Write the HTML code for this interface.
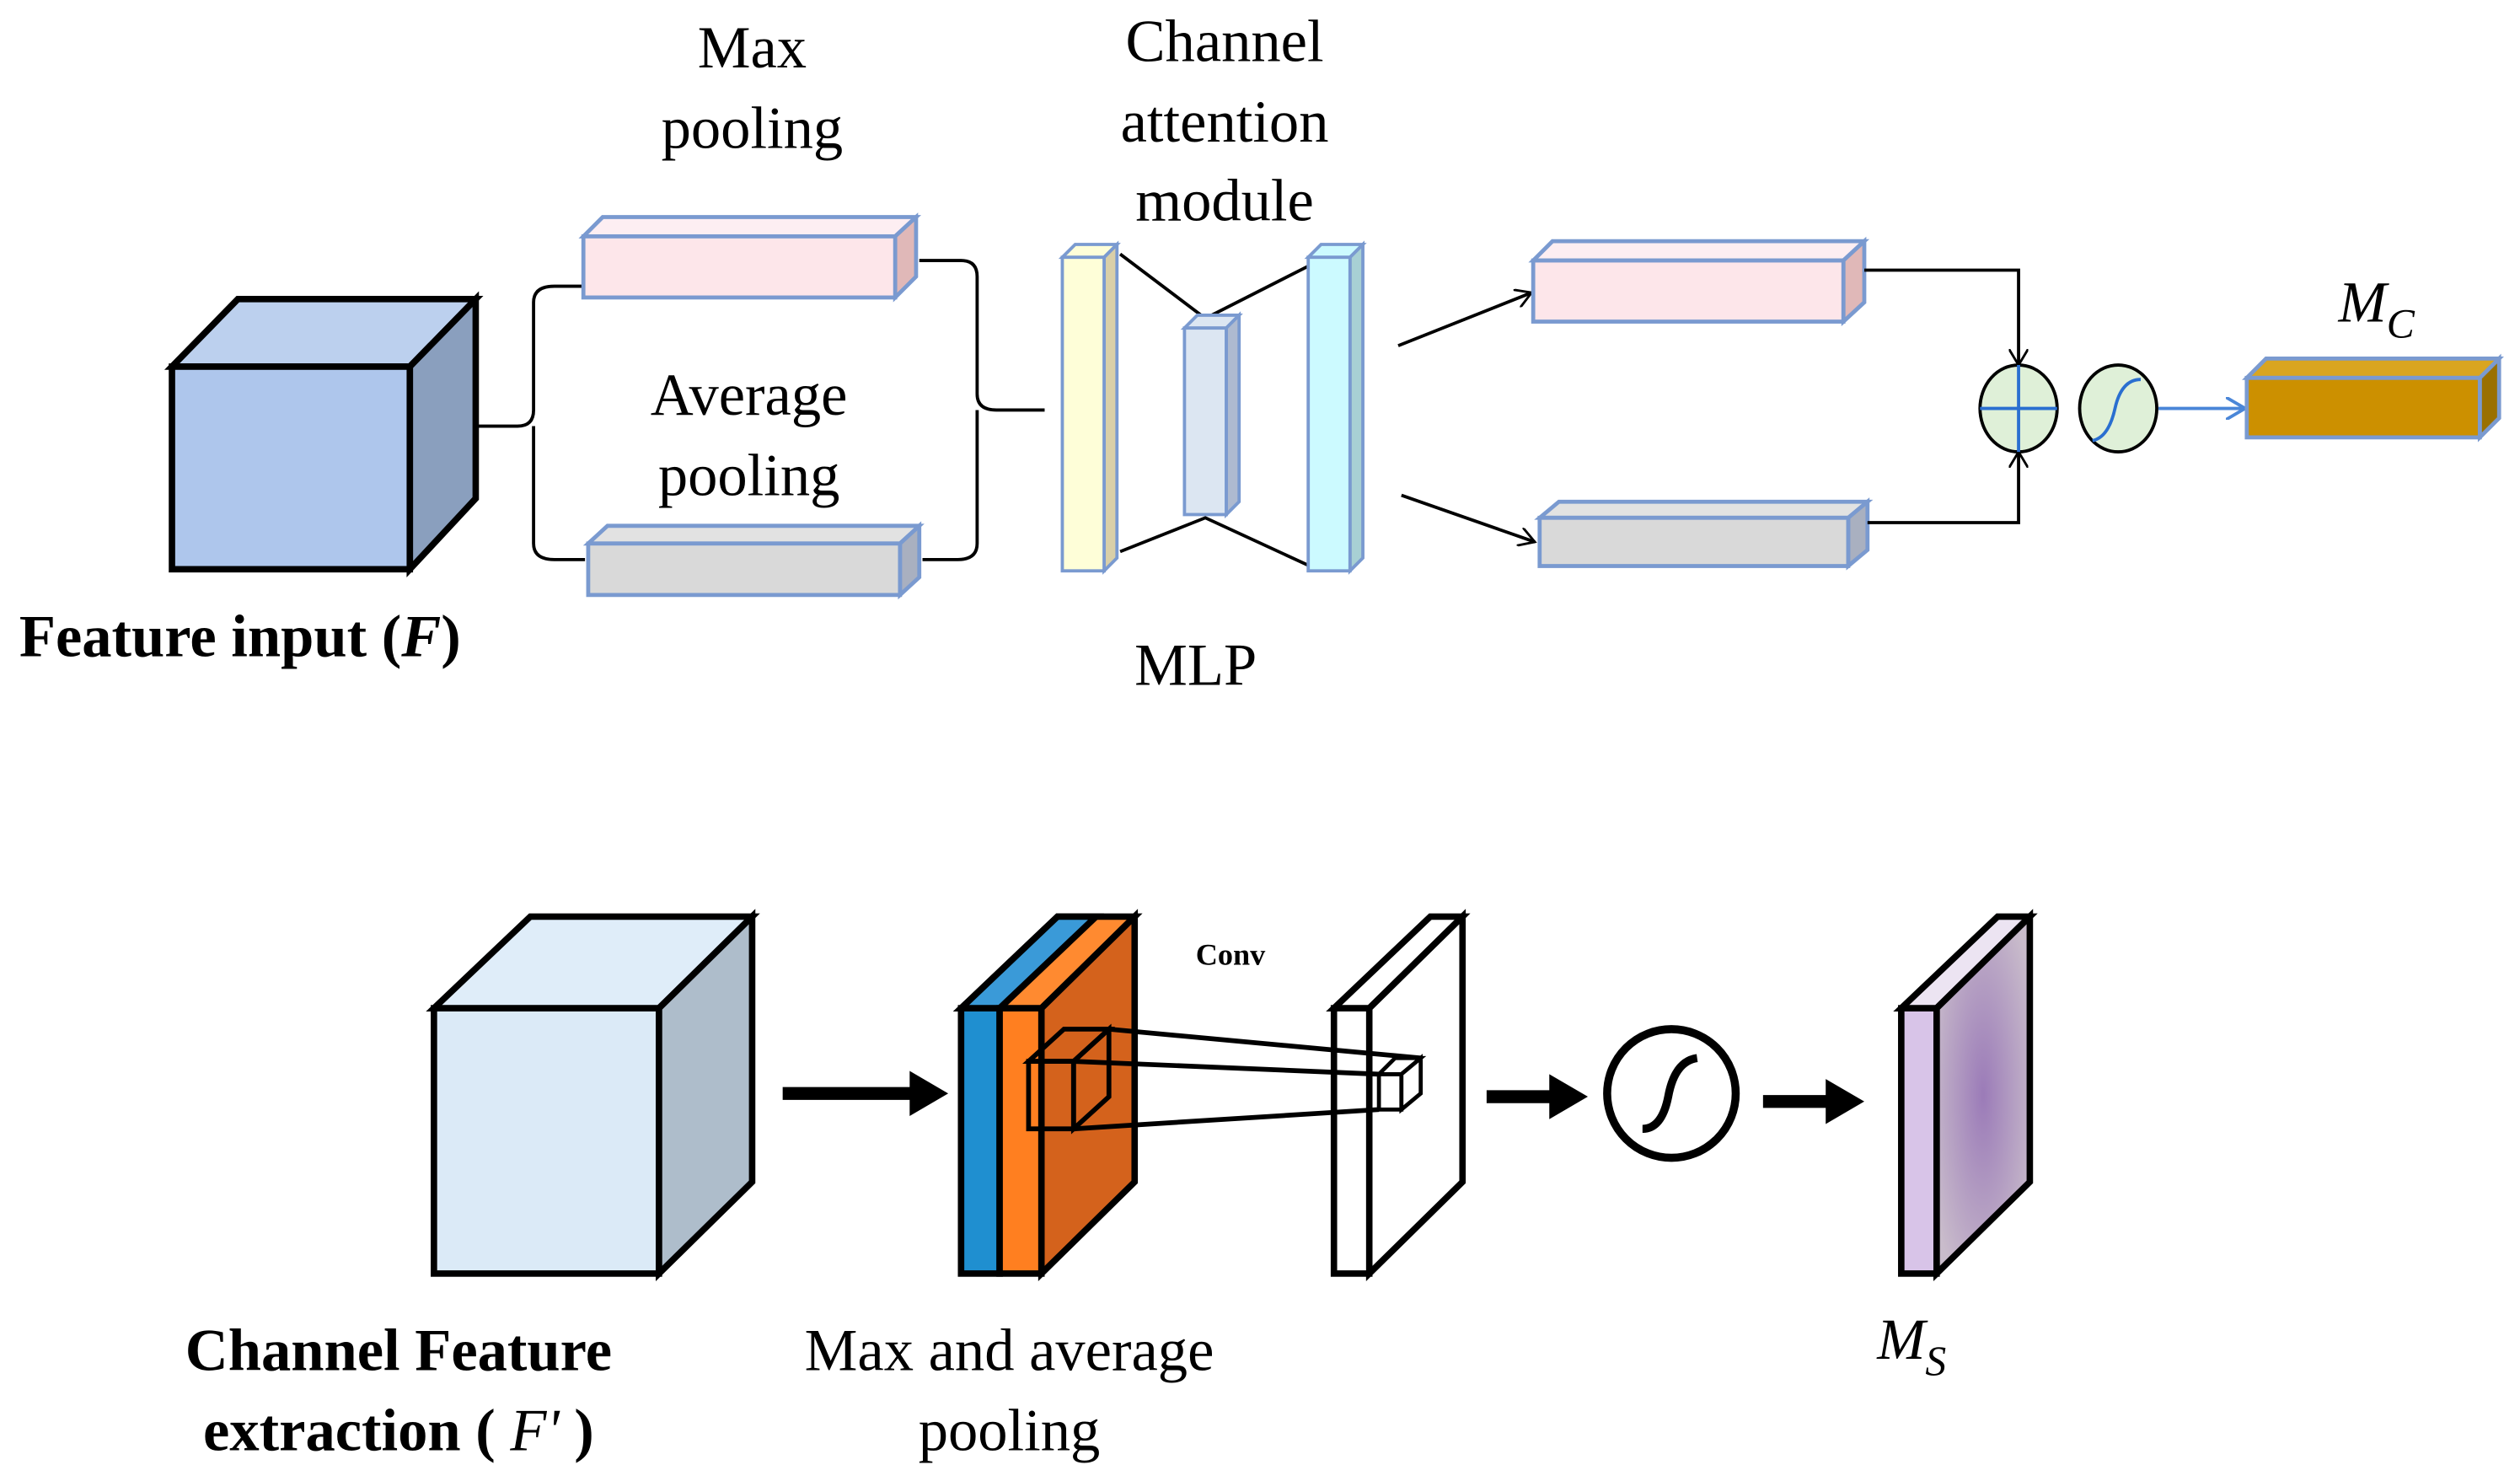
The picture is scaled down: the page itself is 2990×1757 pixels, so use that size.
<!DOCTYPE html>
<html><head><meta charset="utf-8"><style>html,body{margin:0;padding:0;background:#fff}svg{display:block}</style></head>
<body>
<svg width="2990" height="1757" viewBox="0 0 1568 921" preserveAspectRatio="none" xmlns="http://www.w3.org/2000/svg" font-family="'Liberation Serif', serif">
<defs>
<marker id="ah" markerWidth="12" markerHeight="12" refX="10" refY="6" orient="auto" markerUnits="userSpaceOnUse"><path d="M0,0 L10,6 L0,12" fill="none" stroke="#000" stroke-width="1.5"/></marker>
<marker id="ahb" markerWidth="14" markerHeight="14" refX="12" refY="7" orient="auto" markerUnits="userSpaceOnUse"><path d="M0,0 L12,7 L0,14" fill="none" stroke="#4a86d8" stroke-width="2"/></marker>
<radialGradient id="pg" cx="0.5" cy="0.5" r="0.6"><stop offset="0" stop-color="#9b7bb8"/><stop offset="1" stop-color="#c9bccb"/></radialGradient>
</defs>

<g stroke="#000" stroke-width="4" stroke-linejoin="miter">
<polygon points="107,228 148,186 296,186 255,228" fill="#bcd0ee"/>
<polygon points="255,228 296,186 296,310 255,354" fill="#8a9fbe"/>
<rect x="107" y="228" width="148" height="126" fill="#aec6ec"/>
</g>
<text x="12" y="408" font-size="37" font-weight="bold">Feature input (<tspan font-style="italic">F</tspan>)</text>

<path d="M296,265 L322,265 Q332,265 332,255 L332,188 Q332,178 345,178 L362,178 M332,265 L332,338 Q332,348 345,348 L364,348" fill="none" stroke="#000" stroke-width="2"/>

<g stroke="#7a9ad0" stroke-width="2.5">
<polygon points="363,147 375,135 570,135 557,147" fill="#fdeef2"/>
<polygon points="557,147 570,135 570,172 557,185" fill="#e0b8b8"/>
<rect x="363" y="147" width="194" height="38" fill="#fde6ea"/>
<polygon points="366,338 378,327 572,327 560,338" fill="#e2e2e2"/>
<polygon points="560,338 572,327 572,359 560,370" fill="#a9b0c0"/>
<rect x="366" y="338" width="194" height="32" fill="#d9d9d9"/>
</g>
<g font-size="37" text-anchor="middle">
<text x="468" y="42">Max</text><text x="468" y="92">pooling</text>
<text x="466" y="258">Average</text><text x="466" y="308">pooling</text>
<text x="762" y="38">Channel</text><text x="762" y="88">attention</text><text x="762" y="137">module</text>
<text x="744" y="426">MLP</text>
</g>

<path d="M572,162 L598,162 Q608,162 608,172 L608,245 Q608,255 620,255 L650,255 M608,255 L608,338 Q608,348 596,348 L574,348" fill="none" stroke="#000" stroke-width="2"/>

<path d="M697,158 L750,198 L815,165 M697,343 L750,322 L815,352" fill="none" stroke="#000" stroke-width="2"/>
<g stroke="#7a9ad0" stroke-width="2">
<polygon points="661,160 669,152 695,152 687,160" fill="#fefed8"/>
<polygon points="687,160 695,152 695,347 687,355" fill="#d9cfa8"/>
<rect x="661" y="160" width="26" height="195" fill="#fefed8"/>
<polygon points="737,204 745,196 771,196 763,204" fill="#dce6f2"/>
<polygon points="763,204 771,196 771,312 763,320" fill="#aebad0"/>
<rect x="737" y="204" width="26" height="116" fill="#dce6f2"/>
<polygon points="814,160 822,152 848,152 840,160" fill="#ccfaff"/>
<polygon points="840,160 848,152 848,347 840,355" fill="#a8d0d4"/>
<rect x="814" y="160" width="26" height="195" fill="#ccfaff"/>
</g>

<line x1="870" y1="215" x2="953" y2="182" stroke="#000" stroke-width="2" marker-end="url(#ah)"/>
<line x1="872" y1="308" x2="955" y2="337" stroke="#000" stroke-width="2" marker-end="url(#ah)"/>
<g stroke="#7a9ad0" stroke-width="2.5">
<polygon points="954,162 966,150 1160,150 1147,162" fill="#fdeef2"/>
<polygon points="1147,162 1160,150 1160,188 1147,200" fill="#e0b8b8"/>
<rect x="954" y="162" width="193" height="38" fill="#fde6ea"/>
<polygon points="958,322 970,312 1162,312 1150,322" fill="#e2e2e2"/>
<polygon points="1150,322 1162,312 1162,342 1150,352" fill="#a9b0c0"/>
<rect x="958" y="322" width="192" height="30" fill="#d9d9d9"/>
</g>
<path d="M1160,168 L1256,168 L1256,227" fill="none" stroke="#000" stroke-width="2" marker-end="url(#ah)"/>
<path d="M1162,325 L1256,325 L1256,281" fill="none" stroke="#000" stroke-width="2" marker-end="url(#ah)"/>
<ellipse cx="1256" cy="254" rx="24" ry="27" fill="#dff0d8" stroke="#000" stroke-width="2"/>
<path d="M1232,254 L1280,254 M1256,227 L1256,281" stroke="#2a6fd0" stroke-width="2"/>
<ellipse cx="1318" cy="254" rx="24" ry="27" fill="#dff0d8" stroke="#000" stroke-width="2"/>
<path d="M1302,274 Q1312,272 1316,254 Q1320,236 1332,236" fill="none" stroke="#2a6fd0" stroke-width="2"/>
<line x1="1343" y1="254" x2="1397" y2="254" stroke="#4a86d8" stroke-width="2" marker-end="url(#ahb)"/>
<g stroke="#7a9ad0" stroke-width="2.5">
<polygon points="1398,235 1410,223 1555,223 1543,235" fill="#d9a520"/>
<polygon points="1543,235 1555,223 1555,260 1543,272" fill="#9a7000"/>
<rect x="1398" y="235" width="145" height="37" fill="#cc9000"/>
</g>
<text x="1455" y="200" font-size="36" font-style="italic">M<tspan font-size="26" dy="10">C</tspan></text>

<g stroke="#000" stroke-width="4">
<polygon points="270,627 330,570 468,570 410,627" fill="#dfedf9"/>
<polygon points="410,627 468,570 468,735 410,792" fill="#aebdcb"/>
<rect x="270" y="627" width="140" height="165" fill="#dbeaf7"/>
</g>
<line x1="487" y1="680" x2="570" y2="680" stroke="#000" stroke-width="8"/>
<polygon points="566,666 590,680 566,694" fill="#000"/>

<g stroke="#000" stroke-width="4">
<polygon points="598,627 658,570 706,570 648,627" fill="#ff8a30"/>
<polygon points="598,627 658,570 682,570 622,627" fill="#3a9ad8"/>
<polygon points="648,627 706,570 706,735 648,792" fill="#d4621c"/>
<rect x="598" y="627" width="24" height="165" fill="#1f8fd0"/>
<rect x="622" y="627" width="26" height="165" fill="#ff7f20"/>
</g>
<text x="744" y="600" font-size="19" font-weight="bold">Conv</text>
<g stroke="#000" stroke-width="4" fill="#fff">
<polygon points="830,627 890,570 910,570 852,627"/>
<polygon points="852,627 910,570 910,735 852,792"/>
<rect x="830" y="627" width="22" height="165"/>
</g>
<g fill="none" stroke="#000" stroke-width="3">
<rect x="640" y="660" width="28" height="42"/>
<polygon points="640,660 662,640 690,640 668,660"/>
<polygon points="668,660 690,640 690,682 668,702"/>
<line x1="690" y1="640" x2="884" y2="658"/>
<line x1="668" y1="660" x2="858" y2="668"/>
<line x1="668" y1="702" x2="858" y2="690"/>
</g>
<g fill="#fff" stroke="#000" stroke-width="2.5">
<rect x="858" y="668" width="14" height="22"/>
<polygon points="858,668 868,658 884,658 872,668"/>
<polygon points="872,668 884,658 884,680 872,690"/>
</g>
<line x1="925" y1="682" x2="968" y2="682" stroke="#000" stroke-width="8"/>
<polygon points="964,668 988,682 964,696" fill="#000"/>
<circle cx="1040" cy="680" r="40" fill="#fff" stroke="#000" stroke-width="5"/>
<path d="M1022,702 Q1034,702 1038,682 Q1042,660 1056,658" fill="none" stroke="#000" stroke-width="5"/>
<line x1="1097" y1="685" x2="1140" y2="685" stroke="#000" stroke-width="8"/>
<polygon points="1136,671 1160,685 1136,699" fill="#000"/>
<g stroke="#000" stroke-width="4">
<polygon points="1183,627 1243,570 1263,570 1205,627" fill="#ece4f2"/>
<polygon points="1205,627 1263,570 1263,735 1205,792" fill="url(#pg)"/>
<rect x="1183" y="627" width="22" height="165" fill="#d8c4e8"/>
</g>
<text x="1168" y="845" font-size="36" font-style="italic">M<tspan font-size="26" dy="10">S</tspan></text>

<g font-size="37" text-anchor="middle">
<text x="248" y="852" font-weight="bold">Channel Feature</text>
<text x="248" y="902" font-weight="bold">extraction ( <tspan font-style="italic" font-weight="normal">F'</tspan> )</text>
<text x="628" y="852">Max and average</text>
<text x="628" y="902">pooling</text>
</g>
</svg>
</body></html>
